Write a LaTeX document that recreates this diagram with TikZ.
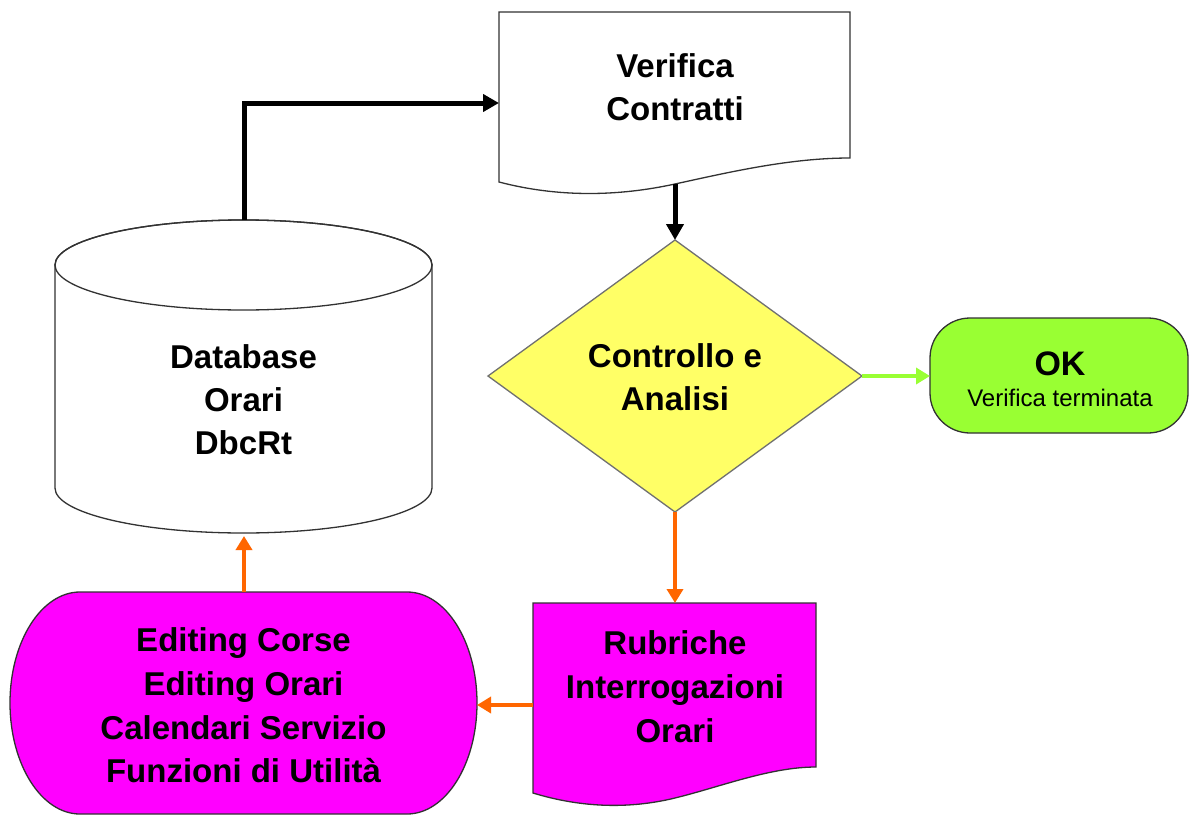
\documentclass[tikz,border=0pt]{standalone}
\usepackage{fontspec}
\setmainfont{Liberation Sans}
\usetikzlibrary{arrows.meta}
\definecolor{dyellow}{RGB}{255,255,102}
\definecolor{okgreen}{RGB}{153,255,51}
\definecolor{mag}{RGB}{255,0,255}
\definecolor{org}{RGB}{255,102,0}
\definecolor{edge}{RGB}{50,50,50}
\tikzset{
  outline/.style={draw=edge, line width=1.3pt},
  blackarrow/.style={line width=5pt, -{Triangle[length=16pt,width=17pt]}},
  orangearrow/.style={draw=org, line width=4.2pt, -{Triangle[length=14pt,width=16pt]}, color=org},
  greenarrow/.style={draw=okgreen, line width=4pt, -{Triangle[length=14pt,width=16pt]}, color=okgreen},
  lbl/.style={font=\fontsize{33}{43}\selectfont\bfseries, align=center, inner sep=0pt},
}
\begin{document}
\begin{tikzpicture}[x=1pt,y=-1pt]
\useasboundingbox (0,0) rectangle (1190,816);
\fill[white] (0,0) rectangle (1190,816);

% Verifica Contratti (document)
\draw[outline, fill=white] (499,12) -- (850,12) -- (850,158)
  .. controls (790,158) and (730,172) .. (675,184)
  .. controls (620,196) and (560,198) .. (499,182) -- cycle;
\node[lbl] (vc) at (675,87) {Verifica\\Contratti};
\coordinate (vcin) at (499,103);
\coordinate (vcout) at (675,184);

% Database cylinder
\draw[outline, fill=white] (55,265) -- (55,488)
  arc[start angle=180, end angle=0, x radius=188.5, y radius=45]
  -- (432,265)
  arc[start angle=0, end angle=-180, x radius=188.5, y radius=45] -- cycle;
\draw[outline] (243.5,265) ellipse [x radius=188.5, y radius=45];
\node[lbl] (db) at (243.5,400) {Database\\Orari\\DbcRt};
\coordinate (dbtop) at (244,220);
\coordinate (dbbot) at (244,536);

% Decision diamond
\draw[outline, draw=edge!70, fill=dyellow] (675,240) -- (862,376) -- (675,512) -- (488,376) -- cycle;
\node[lbl] (ca) at (675,377) {Controllo e\\Analisi};
\coordinate (catop) at (675,240);
\coordinate (caright) at (862,376);
\coordinate (cabot) at (675,512);

% OK terminal
\draw[outline, fill=okgreen, rounded corners=40pt] (930,318) rectangle (1188,433);
\node[align=center, inner sep=0pt, font=\fontsize{24}{31}\selectfont] (ok) at (1060,379)
  {{\fontsize{34}{31}\selectfont\bfseries OK}\\Verifica terminata};
\coordinate (okleft) at (930,376);

% Rubriche (document)
\draw[outline, fill=mag] (533,603) -- (816,603) -- (816,767)
  .. controls (770,767) and (720,787) .. (675,798)
  .. controls (630,809) and (582,808) .. (533,793) -- cycle;
\node[lbl, font=\fontsize{33}{44}\selectfont\bfseries] (rub) at (675,687) {Rubriche\\Interrogazioni\\Orari};
\coordinate (rubtop) at (675,603);
\coordinate (rubleft) at (533,705);

% Editing (terminal-like)
\draw[outline, fill=mag] (80,592) -- (407,592)
  arc[start angle=-90, end angle=90, x radius=70, y radius=111]
  -- (80,814)
  arc[start angle=90, end angle=270, x radius=70, y radius=111] -- cycle;
\node[lbl, font=\fontsize{33}{43.7}\selectfont\bfseries] (ed) at (243.5,705.5)
  {Editing Corse\\Editing Orari\\Calendari Servizio\\Funzioni di Utilità};
\coordinate (edtop) at (244,592);
\coordinate (edright) at (477,705);

% Connectors
\draw[blackarrow] (dbtop) |- (vcin);
\draw[blackarrow] (vcout) -- (catop);
\draw[greenarrow] (caright) -- (okleft);
\draw[orangearrow] (cabot) -- (rubtop);
\draw[orangearrow] (rubleft) -- (edright);
\draw[orangearrow] (edtop) -- (dbbot);
\end{tikzpicture}
\end{document}
